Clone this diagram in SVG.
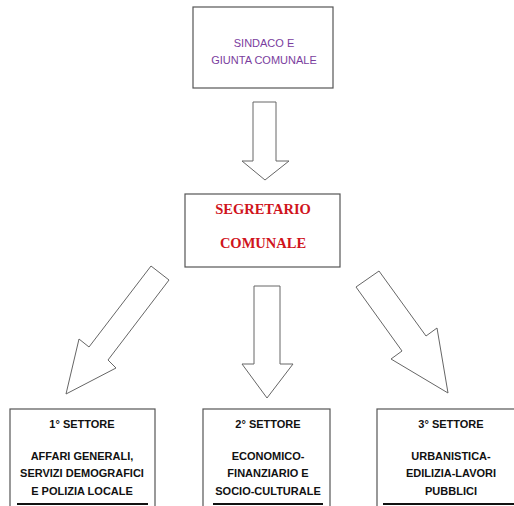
<svg xmlns="http://www.w3.org/2000/svg" width="514" height="506" viewBox="0 0 514 506">
<style>
.box{fill:#fff;stroke:#555;stroke-width:1.2}
.arrow{fill:#fff;stroke:#666;stroke-width:1}
.top{font-family:"Liberation Sans",Arial,sans-serif;font-size:11px;fill:#7a3d9e;text-anchor:middle}
.seg{font-family:"Liberation Serif","Times New Roman",serif;font-size:14.5px;font-weight:bold;fill:#d0141c;text-anchor:middle}
.set{font-family:"Liberation Sans",Arial,sans-serif;font-size:11px;font-weight:bold;fill:#111;text-anchor:middle}
.ul{stroke:#111;stroke-width:2.2}
</style>
<rect width="514" height="506" fill="#fff"/>
<g id="connectors">
<polygon class="arrow" points="253,102 276,102 276,161 289,161 265,180 242,161 253,161"/>
<polygon class="arrow" points="254,286 280,286 280,364 293,364 267,398 242,364 254,364"/>
<polygon class="arrow" points="151,266 169,280 108,360 116,368 66,394 79,339 89,347"/>
<polygon class="arrow" points="356,287 379,271 426,336 437,328 448,393 391,359 402,351"/>
</g>
<g id="sindaco">
<rect class="box" x="193" y="7" width="140" height="81"/>
<text class="top" x="264" y="47">SINDACO E</text>
<text class="top" x="264" y="64">GIUNTA COMUNALE</text>
</g>
<g id="segretario">
<rect class="box" x="185" y="194" width="155" height="73"/>
<text class="seg" x="263" y="213.5">SEGRETARIO</text>
<text class="seg" x="263" y="248">COMUNALE</text>
</g>
<g id="settore1">
<rect class="box" x="10" y="409" width="145" height="110"/>
<text class="set" x="82" y="428">1° SETTORE</text>
<text class="set" x="82" y="459.5">AFFARI GENERALI,</text>
<text class="set" x="82" y="477">SERVIZI DEMOGRAFICI</text>
<text class="set" x="82" y="494.5">E POLIZIA LOCALE</text>
<line class="ul" x1="17" y1="504" x2="148" y2="504"/>
</g>
<g id="settore2">
<rect class="box" x="203" y="409" width="127" height="110"/>
<text class="set" x="268" y="428">2° SETTORE</text>
<text class="set" x="268" y="459.5">ECONOMICO-</text>
<text class="set" x="268" y="477">FINANZIARIO E</text>
<text class="set" x="268" y="494.5">SOCIO-CULTURALE</text>
<line class="ul" x1="213" y1="504" x2="323" y2="504"/>
</g>
<g id="settore3">
<rect class="box" x="377" y="409" width="150" height="110"/>
<text class="set" x="451" y="428">3° SETTORE</text>
<text class="set" x="451" y="459.5">URBANISTICA-</text>
<text class="set" x="451" y="477">EDILIZIA-LAVORI</text>
<text class="set" x="451" y="494.5">PUBBLICI</text>
<line class="ul" x1="383" y1="504" x2="514" y2="504"/>
</g>
</svg>
